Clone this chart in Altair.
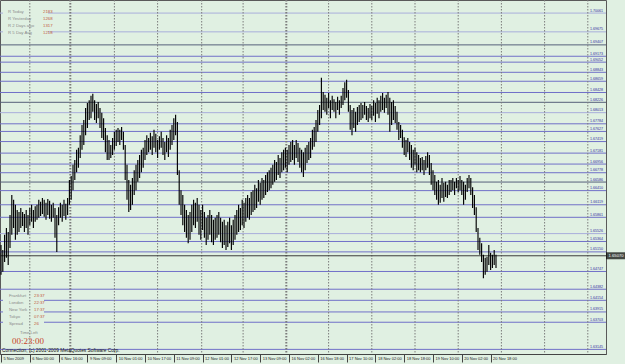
import json
import altair as alt
import pandas as pd

BG = "#e0f0e2"
FONT = "Liberation Sans"

# ---- hourly bars (price x 10000) ----
highs = [
16529,16519,16550,16564,16556,16591,16632,16622,16612,16601,
16597,16605,16597,16593,16601,16591,16605,16612,16601,16609,
16612,16622,16618,16626,16622,16616,16624,16620,16612,16616,
16605,16591,16607,16616,16612,16622,16614,16626,16663,16671,
16694,16704,16725,16729,16755,16776,16786,16811,16821,16827,
16836,16840,16827,16819,16823,16811,16801,16790,16770,16755,
16745,16735,16749,16762,16766,16770,16766,16772,16762,16735,
16694,16663,16653,16667,16683,16694,16704,16714,16725,16729,
16745,16755,16749,16760,16753,16766,16758,16745,16753,16762,
16749,16741,16755,16749,16766,16776,16790,16797,16782,16683,
16642,16632,16612,16601,16591,16597,16612,16622,16616,16626,
16612,16601,16612,16597,16585,16591,16601,16591,16581,16585,
16591,16597,16585,16577,16581,16570,16577,16585,16570,16581,
16591,16601,16612,16605,16622,16616,16626,16632,16626,16638,
16642,16653,16646,16663,16657,16667,16663,16673,16679,16683,
16688,16694,16704,16700,16714,16708,16720,16725,16729,16725,
16735,16741,16745,16735,16745,16739,16729,16725,16720,16729,
16735,16741,16749,16766,16772,16786,16807,16817,16873,16844,
16838,16832,16842,16827,16836,16829,16823,16834,16827,16836,
16852,16864,16869,16848,16817,16807,16811,16803,16813,16817,
16821,16817,16823,16815,16811,16819,16815,16827,16821,16832,
16827,16836,16842,16832,16838,16844,16832,16823,16827,16815,
16803,16782,16776,16766,16751,16745,16749,16741,16735,16725,
16729,16720,16714,16708,16710,16704,16712,16720,16714,16698,
16683,16673,16659,16663,16653,16667,16657,16659,16653,16663,
16663,16667,16659,16667,16663,16671,16663,16659,16653,16667,
16673,16667,16648,16632,16607,16564,16544,16533,16509,16503,
16505,16529,16513,16509,16519,16509,
]
lows = [
16468,16474,16494,16503,16488,16523,16550,16564,16540,16550,
16556,16564,16568,16556,16564,16550,16570,16577,16564,16577,
16581,16585,16589,16593,16587,16581,16591,16583,16577,16585,
16544,16515,16570,16585,16577,16589,16581,16591,16612,16622,
16642,16663,16679,16688,16708,16725,16735,16755,16770,16786,
16790,16803,16786,16780,16790,16770,16749,16745,16720,16704,
16704,16708,16714,16725,16733,16741,16735,16745,16725,16663,
16622,16597,16601,16612,16632,16642,16659,16667,16679,16688,
16704,16714,16720,16725,16714,16729,16720,16708,16725,16729,
16714,16704,16720,16710,16725,16735,16745,16755,16673,16612,
16591,16570,16556,16544,16533,16540,16556,16570,16564,16577,
16550,16540,16560,16544,16529,16540,16550,16535,16529,16540,
16544,16550,16535,16523,16529,16519,16525,16533,16519,16529,
16540,16550,16556,16560,16570,16564,16577,16585,16581,16591,
16597,16601,16605,16618,16612,16622,16626,16632,16638,16642,
16646,16653,16659,16663,16673,16667,16679,16683,16688,16679,
16694,16700,16704,16694,16708,16700,16688,16679,16669,16683,
16698,16704,16708,16725,16731,16741,16762,16776,16790,16807,
16803,16797,16811,16790,16807,16803,16790,16807,16797,16811,
16817,16827,16832,16803,16766,16755,16770,16762,16776,16782,
16786,16790,16797,16786,16782,16790,16786,16795,16782,16799,
16790,16803,16807,16801,16811,16797,16762,16776,16786,16780,
16766,16745,16749,16729,16714,16710,16720,16704,16688,16683,
16694,16679,16683,16679,16683,16673,16683,16688,16673,16653,
16642,16632,16622,16612,16616,16626,16618,16628,16626,16632,
16638,16642,16632,16646,16638,16642,16632,16612,16622,16638,
16646,16632,16605,16591,16556,16519,16509,16494,16461,16468,
16474,16488,16478,16482,16488,16482,
]

bid_price = 1.65070

# ---- horizontal level lines ----
level_values = [1.70061, 1.69675, 1.69407, 1.69173, 1.69052, 1.68843, 1.68659, 1.68428,
                1.68226, 1.68013, 1.67784, 1.67627, 1.67419, 1.67181, 1.66956, 1.66778,
                1.66586, 1.66410, 1.66119, 1.65861, 1.65526, 1.65364, 1.65150, 1.64747,
                1.64382, 1.64154, 1.63915, 1.63703, 1.63145]
level_styles = ["pale", "pale", "dark", "blue", "blue", "blue", "blue", "blue",
                "dark", "pale", "blue", "blue", "blue", "blue", "blue", "blue",
                "dark", "blue", "blue", "blue", "pale", "blue", "blue", "blue",
                "blue", "blue", "blue", "blue", "blue"]

# ---- axes ----
price_tick_labels = ["1.70185", "1.69885", "1.69590", "1.69295", "1.68995", "1.68700",
                     "1.68405", "1.68105", "1.67810", "1.67515", "1.67215", "1.66920",
                     "1.66625", "1.66325", "1.66030", "1.65735", "1.65435", "1.65140",
                     "1.64840", "1.64545", "1.64250", "1.63950", "1.63655", "1.63360",
                     "1.63060"]
date_labels = ["5 Nov 2009", "6 Nov 00:00", "6 Nov 16:00", "9 Nov 09:00", "10 Nov 01:00",
               "10 Nov 17:00", "11 Nov 09:00", "12 Nov 01:00", "12 Nov 17:00", "13 Nov 09:00",
               "16 Nov 02:00", "16 Nov 18:00", "17 Nov 10:00", "18 Nov 02:00", "18 Nov 18:00",
               "19 Nov 10:00", "20 Nov 02:00", "20 Nov 18:00"]
bars_per_label = 16

# vertical day separators (bar index) and whether they are week breaks
grid_positions = [16, 38.5, 63, 87, 111.5, 134.5, 158.5, 182, 206, 230, 254, 278, 302, 326]
grid_week = [0, 1, 0, 0, 0, 0, 1, 0, 0, 0, 0, 0, 0, 0]

# ---- info panels ----
top_names = ["R Today", "R Yesterday", "R 2 Days ago", "R 5 Day Avg"]
top_values = ["2183", "1268", "1317", "1218"]
city_names = ["Frankfurt", "London", "New York", "Tokyo", "Spread"]
city_values = ["23:37", "22:37", "17:37", "07:37", "26"]
time_left = "00:23:00"
copyright_text = "Connection, (c) 2001-2009 MetaQuotes Software Corp."

# ================= build =================
bars = pd.DataFrame({
    "i": list(range(len(highs))),
    "high": [h / 10000 for h in highs],
    "low": [l / 10000 for l in lows],
})
levels_df = pd.DataFrame({
    "value": level_values,
    "label": [f"{v:.5f}" for v in level_values],
    "style": level_styles,
})
grid_df = pd.DataFrame({"pos": grid_positions, "w": [2 if w else 1 for w in grid_week]})
bid_df = pd.DataFrame({"value": [bid_price], "label": [f"{bid_price:.5f}"]})
one = pd.DataFrame({"a": [0]})

xs = alt.Scale(domain=[-0.556, 336.11], nice=False, zero=False)
ys = alt.Scale(domain=[1.6305, 1.7033], nice=False, zero=False)

yaxis = alt.Axis(orient="right", values=[float(t) for t in price_tick_labels], format=".5f",
                 labelFontSize=4.2, labelFont=FONT, labelColor="#222222", tickSize=2,
                 tickColor="#444444", domainColor="#444444", labelPadding=1, grid=False,
                 title=None, labelOverlap=False, labelFlush=False, labelBaseline="middle")
xaxis = alt.Axis(orient="bottom", values=[k * bars_per_label for k in range(len(date_labels))],
                 labelExpr=json.dumps(date_labels) + f"[round(datum.value/{bars_per_label})]",
                 labelAlign="left", labelBaseline="top", labelPadding=-6, tickSize=8,
                 labelOffset=2, labelFontSize=4, labelFont=FONT, labelColor="#222222",
                 tickColor="#444444", domainColor="#444444", grid=False, title=None,
                 labelOverlap=False, labelFlush=False)

level_lines = alt.Chart(levels_df).mark_rule(strokeWidth=1).encode(
    y=alt.Y("value:Q", scale=ys, axis=yaxis),
    color=alt.Color("style:N", legend=None,
                    scale=alt.Scale(domain=["blue", "pale", "dark"],
                                    range=["#7070c8", "#a9aedb", "#56607a"])),
)

mask_top = alt.Chart(one).mark_rect(color=BG).encode(
    x=alt.value(3), x2=alt.value(48), y=alt.value(8), y2=alt.value(37))
mask_bottom = alt.Chart(one).mark_rect(color=BG).encode(
    x=alt.value(3), x2=alt.value(44), y=alt.value(293), y2=alt.value(346))

grid = alt.Chart(grid_df).mark_rule(strokeDash=[1.5, 1.5], color="#7c7c7c").encode(
    x=alt.X("pos:Q", scale=xs, axis=xaxis),
    strokeWidth=alt.StrokeWidth("w:Q", scale=None, legend=None),
)

bid_line = alt.Chart(bid_df).mark_rule(color="#3c3c3c", strokeWidth=1).encode(
    y=alt.Y("value:Q", scale=ys, axis=None))

bar_marks = alt.Chart(bars).mark_rule(color="#000000", strokeWidth=1.15).encode(
    x=alt.X("i:Q", scale=xs, axis=xaxis),
    y=alt.Y("high:Q", scale=ys, axis=None),
    y2="low:Q",
)

level_text = alt.Chart(levels_df).mark_text(
    align="right", baseline="bottom", dy=-0.5, fontSize=3.6, font=FONT, color="#2f2fa0"
).encode(x=alt.value(603), y=alt.Y("value:Q", scale=ys, axis=None), text="label:N")

bid_box = alt.Chart(bid_df).mark_tick(color="#000000", thickness=7, size=19, orient="horizontal").encode(
    x=alt.value(615.5), y=alt.Y("value:Q", scale=ys, axis=None))
bid_text = alt.Chart(bid_df).mark_text(
    align="left", baseline="middle", fontSize=4.2, font=FONT, color="#ffffff"
).encode(x=alt.value(608.5), y=alt.Y("value:Q", scale=ys, axis=None), text="label:N")

texts = []
for k, (n, v) in enumerate(zip(top_names, top_values)):
    texts.append(alt.Chart(one).mark_text(align="left", baseline="middle", fontSize=4.3,
                                          font=FONT, color="#8a8a8a", text=n)
                 .encode(x=alt.value(8), y=alt.value(12 + 7 * k)))
    texts.append(alt.Chart(one).mark_text(align="left", baseline="middle", fontSize=4.3,
                                          font=FONT, color="#c0583c", text=v)
                 .encode(x=alt.value(43), y=alt.value(12 + 7 * k)))
for k, (n, v) in enumerate(zip(city_names, city_values)):
    texts.append(alt.Chart(one).mark_text(align="left", baseline="middle", fontSize=4.3,
                                          font=FONT, color="#8a8a8a", text=n)
                 .encode(x=alt.value(9), y=alt.value(296 + 7 * k)))
    texts.append(alt.Chart(one).mark_text(align="left", baseline="middle", fontSize=4.3,
                                          font=FONT, color="#c0583c", text=v)
                 .encode(x=alt.value(34), y=alt.value(296 + 7 * k)))
texts.append(alt.Chart(one).mark_text(align="left", baseline="middle", fontSize=4.3,
                                      font=FONT, color="#8a8a8a", text="Time Left")
             .encode(x=alt.value(20), y=alt.value(333)))
texts.append(alt.Chart(one).mark_text(align="left", baseline="middle", fontSize=9,
                                      font="Liberation Serif", color="#c8462a", text=time_left)
             .encode(x=alt.value(12), y=alt.value(341)))
texts.append(alt.Chart(one).mark_text(align="left", baseline="middle", fontSize=4.8,
                                      font=FONT, color="#111111", text=copyright_text)
             .encode(x=alt.value(2), y=alt.value(350.5)))

chart = alt.layer(
    level_lines, mask_top, mask_bottom, grid, bid_line, bar_marks, level_text,
    *texts, bid_box, bid_text,
).properties(
    width=606, height=354,
    padding={"left": 0, "top": 0, "right": 19, "bottom": 10},
    autosize=alt.AutoSizeParams(type="none"),
    background=BG,
).configure_view(stroke="#5a5a5a", strokeWidth=1)

chart.save("out.html", embed_options={"renderer": "svg", "actions": False})
